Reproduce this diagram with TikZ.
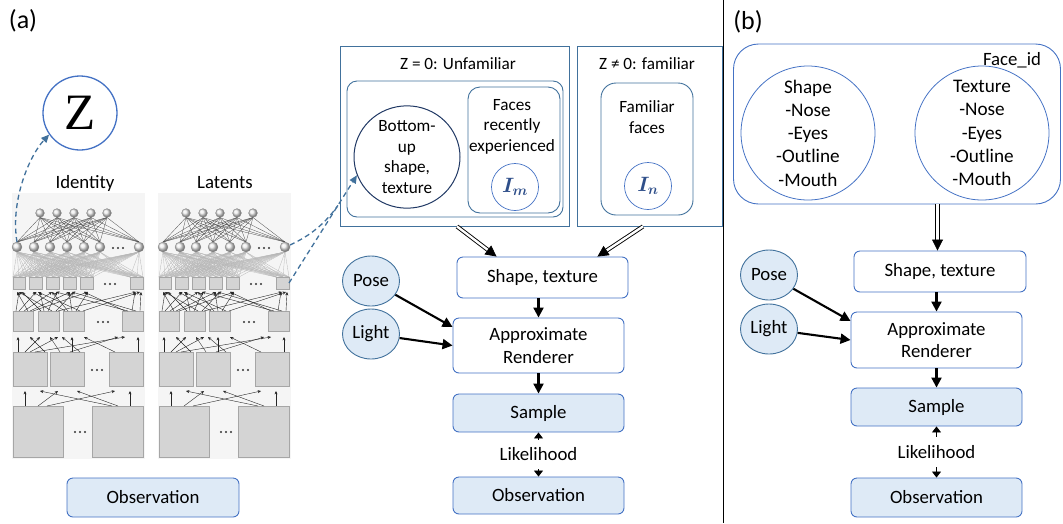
\documentclass[tikz,border=0pt]{standalone}
\usepackage{fontspec}
\setmainfont{Carlito}
\newfontfamily\zfont{Liberation Serif}
\usepackage{bm}
\usetikzlibrary{arrows.meta,shapes.geometric,calc}

\definecolor{obBlue}{HTML}{4472C4}
\definecolor{frameBlue}{HTML}{41719C}
\definecolor{navy}{HTML}{203864}
\definecolor{memText}{HTML}{2F4F8A}
\definecolor{paleBlue}{HTML}{DEEAF6}

\tikzset{
  txt/.style={font=\fontsize{18.8}{22.5}\selectfont},
  smalltxt/.style={font=\fontsize{17.2}{20.4}\selectfont},
  circtxt/.style={font=\fontsize{19.2}{23.2}\selectfont},
  labeltxt/.style={font=\fontsize{26}{30}\selectfont},
  stepbox/.style={draw=obBlue, line width=0.9pt, rounded corners=6pt, fill=white,
    minimum width=171pt, txt, align=center, inner sep=0pt},
  databox/.style={stepbox, fill=paleBlue},
  varell/.style={ellipse, draw=frameBlue, fill=paleBlue, line width=0.9pt,
    minimum width=57pt, minimum height=50pt, inner sep=0pt, txt},
  framebox/.style={draw=frameBlue, line width=0.9pt, inner sep=0pt},
  memcirc/.style={circle, draw=obBlue, line width=0.7pt, minimum size=47pt,
    inner sep=0pt, text=memText, font=\fontsize{20}{24}\selectfont},
  featcirc/.style={circle, draw=obBlue, line width=0.8pt, minimum size=134pt,
    inner sep=0pt, align=center, circtxt},
  flow/.style={-{Triangle[length=10pt,width=10pt]}, line width=2.1pt},
  dblshaft/.style={draw=black, double=white, double distance=2.4pt, line width=0.9pt},
  dbltip/.style={-{Triangle[length=11pt,width=11pt]}, line width=0.8pt},
  likeli/.style={{Triangle[length=6pt,width=9pt]}-{Triangle[length=6pt,width=9pt]}, line width=0.8pt},
  dashline/.style={draw=frameBlue, line width=1.3pt, dash pattern=on 5pt off 3.5pt},
  dasharrow/.style={dashline, -{Triangle[length=8pt,width=7pt]}},
  netbg/.style={fill=black!4},
  netdark/.style={draw=black!70, line width=0.3pt},
  netlight/.style={draw=black!28, line width=0.3pt},
  netarrow/.style={draw=black!85, line width=0.4pt, -{Stealth[length=3.4pt,width=3pt]}},
  netsq/.style={fill=black!17, draw=black!35, line width=0.4pt},
  netball/.style={ball color=black!8, draw=black!45, line width=0.3pt},
}

% one stacked feed-forward network (layers of units, drawn in pixel-like units)
\newcommand\netpanel{%
  \fill[netbg] (12,193) rectangle (145,459);
  % dense links between the two top layers
  \foreach \a in {40,57,74,91,107}{
    \foreach \b in {17,34,50,67,84,100,139}{
      \draw[netdark] (\a,217.5) -- (\b,242);
    }
  }
  % light links down to the first row of feature maps
  \foreach \a in {17,34,50,67,84,100,139}{
    \foreach \b in {13,19,25,29,36,42,46,53,59,63,70,76,80,87,93,130,137,143}{
      \draw[netlight] (\a,252) -- (\b,277);
    }
  }
  % feature-map rows
  \foreach \u/\v in {13/25,29/42,46/59,63/76,80/93,130/143}{
    \filldraw[netsq] (\u,277) rectangle (\v,289);
  }
  \foreach \u/\v in {13/33,38/59,63/84,122/143}{
    \filldraw[netsq] (\u,311) rectangle (\v,331);
  }
  \foreach \u/\v in {13/47,50/84,109/143}{
    \filldraw[netsq] (\u,352) rectangle (\v,386);
  }
  \foreach \u/\v in {13/63,92/143}{
    \filldraw[netsq] (\u,406) rectangle (\v,457);
  }
  % bottom-up connections between feature maps
  \foreach \t/\h in {16/19,19/36,24/52,28/17,30/70,33/88,41/22,44/40,48/57,52/19,
                     56/74,58/136,65/33,68/52,72/69,76/88,80/38,83/140,125/84,
                     128/56,132/135,136/72,140/141}{
    \draw[netarrow] (\t,311) -- (\h,292);
  }
  \foreach \t/\h in {18/18,25/40,45/30,30/58,60/50,72/72,80/62,35/125,115/84,70/118,138/138}{
    \draw[netarrow] (\t,352) -- (\h,337);
  }
  \foreach \t/\h in {25/25,38/58,47/115,112/40,118/77,130/130}{
    \draw[netarrow] (\t,406) -- (\h,391);
  }
  % units
  \foreach \a in {40,57,74,91,107}{
    \shadedraw[netball] (\a,213) circle (4.4);
  }
  \foreach \a in {17,34,50,67,84,100,139}{
    \shadedraw[netball] (\a,247) circle (5);
  }
  % ellipses marking omitted units
  \foreach \cx/\cy in {118/248,110/284,103/322,97/370,80/432}{
    \foreach \d in {-5,0,5}{
      \fill[black!80] (\cx+\d,\cy) circle (1.2);
    }
  }
}

\begin{document}
\begin{tikzpicture}[x=1pt,y=-1pt]
\useasboundingbox (0,0) rectangle (1063,523);

% ---------------- panel (a) ----------------
\node[labeltxt] (labA) at (23,21) {(a)};

\node[circle, draw=obBlue, line width=1.3pt, minimum size=74pt, inner sep=0pt,
      font=\zfont\fontsize{51}{51}\selectfont] (Z) at (80,113) {Z};

\node[txt] (idT) at (85,183) {Identity};
\node[txt] (latT) at (225,183) {Latents};

\netpanel
\begin{scope}[shift={(146,0)}]
  \netpanel
\end{scope}

\coordinate (idUnit) at (17,242);
\coordinate (latUnit) at (290,245);
\coordinate (latMap) at (289,283);

\node[databox, minimum width=172pt, minimum height=39pt] (obsL) at (153,497.5) {Observation};

% memory boxes
\node[framebox, minimum width=229pt, minimum height=180pt] (unf) at (454.5,136) {};
\node[smalltxt] (unfT) at (458,64) {Z = 0: Unfamiliar};
\node[framebox, rounded corners=10pt, minimum width=216pt, minimum height=136pt] (unfIn) at (455,149) {};
\node[ellipse, draw=navy, line width=1pt, minimum width=106pt, minimum height=101pt,
      inner sep=0pt, align=center, smalltxt] (bu) at (407,157) {Bottom-\\up\\shape,\\texture};
\node[framebox, rounded corners=12pt, minimum width=92pt, minimum height=126pt] (rec) at (514,150) {};
\node[smalltxt, align=center] (recT) at (512,126.5) {Faces\\recently\\experienced};
\node[memcirc] (Im) at (515,187) {$\bm{I_m}$};

\node[framebox, minimum width=145pt, minimum height=180pt] (fam) at (649.5,136) {};
\node[smalltxt] (famT) at (647,64) {Z ≠ 0: familiar};
\node[framebox, rounded corners=15pt, minimum width=92pt, minimum height=132pt] (famIn) at (647,149) {};
\node[smalltxt, align=center] (famInT) at (647,117) {Familiar\\faces};
\node[memcirc] (In) at (648,186) {$\bm{I_n}$};

% generative chain
\node[stepbox, minimum height=41pt] (shA) at (542.5,277.5) {Shape, texture};
\node[stepbox, minimum height=55pt] (apA) at (538.5,345.5) {Approximate\\Renderer};
\node[databox, minimum height=38pt] (smA) at (538.5,413) {Sample};
\node[databox, minimum height=37pt] (obA) at (538.5,495.5) {Observation};
\node[varell] (poseA) at (371,281) {Pose};
\node[varell] (lightA) at (371,334) {Light};

\draw[flow] (apA.north |- shA.south) -- (apA.north);
\draw[flow] (apA.south) -- (smA.north);
\draw[likeli] (smA.south) -- (obA.north)
  node[midway, fill=white, txt, inner xsep=2pt, inner ysep=8pt] (likA) {Likelihood};
\coordinate (poseInA) at ($(apA.west)+(0,-18.5)$);
\draw[flow] (poseA) -- (poseInA);
\draw[flow] (lightA) -- (apA.west);

% double arrows from memory into the shape/texture stage
\coordinate (dUs) at ($(unf.south)+(2.5,0)$);
\coordinate (dUe) at ($(shA.north west)+(40,0)$);
\coordinate (dFs) at ($(fam.south)+(-6.5,0)$);
\coordinate (dFe) at ($(shA.north east)+(-31,0)$);
\draw[dblshaft] (dUs) -- ($(dUe)!9pt!(dUs)$);
\draw[dbltip] ($(dUe)!11pt!(dUs)$) -- (dUe);
\draw[dblshaft] (dFs) -- ($(dFe)!9pt!(dFs)$);
\draw[dbltip] ($(dFe)!11pt!(dFs)$) -- (dFe);

% dashed read-outs from the network
\draw[dasharrow] (idUnit) .. controls (10,200) and (30,155) .. (Z.215);
\coordinate (mergeP) at ($(latMap)!0.72!(bu.200)$);
\draw[dasharrow] (latMap) -- (bu.200);
\draw[dashline] (latUnit) .. controls (305,238) and (322,228) .. (mergeP);

% divider
\draw[line width=1.2pt] (723.5,0) -- (723.5,523);

% ---------------- panel (b) ----------------
\node[labeltxt] (labB) at (748,22) {(b)};
\node[draw=obBlue, line width=0.9pt, rounded corners=25pt, minimum width=327pt,
      minimum height=160pt] (fid) at (897,124) {};
\node[txt] (fidT) at (1012,60) {Face\_id};
\node[featcirc] (shpC) at (808,133) {Shape\\-Nose\\-Eyes\\-Outline\\-Mouth};
\node[featcirc] (texC) at (982,133) {Texture\\-Nose\\-Eyes\\-Outline\\-Mouth};

\node[stepbox, minimum width=172pt, minimum height=41pt] (shB) at (940,271.5) {Shape, texture};
\node[stepbox, minimum height=56pt] (apB) at (936.5,340) {Approximate\\Renderer};
\node[databox, minimum height=38pt] (smB) at (936.5,407) {Sample};
\node[databox, minimum height=39pt] (obB) at (936.5,497.5) {Observation};
\node[varell] (poseB) at (769,275) {Pose};
\node[varell] (lightB) at (769,329) {Light};

\coordinate (dBs) at ($(fid.south)+(40.5,0)$);
\coordinate (dBe) at ($(shB.north)+(-2.5,0)$);
\draw[dblshaft] (dBs) -- ($(dBe)!9pt!(dBs)$);
\draw[dbltip] ($(dBe)!11pt!(dBs)$) -- (dBe);

\draw[flow] (apB.north |- shB.south) -- (apB.north);
\draw[flow] (apB.south) -- (smB.north);
\draw[likeli] (smB.south) -- (obB.north)
  node[midway, fill=white, txt, inner xsep=2pt, inner ysep=8pt] (likB) {Likelihood};
\coordinate (poseInB) at ($(apB.west)+(0,-19)$);
\draw[flow] (poseB) -- (poseInB);
\draw[flow] (lightB) -- (apB.west);
\end{tikzpicture}
\end{document}
